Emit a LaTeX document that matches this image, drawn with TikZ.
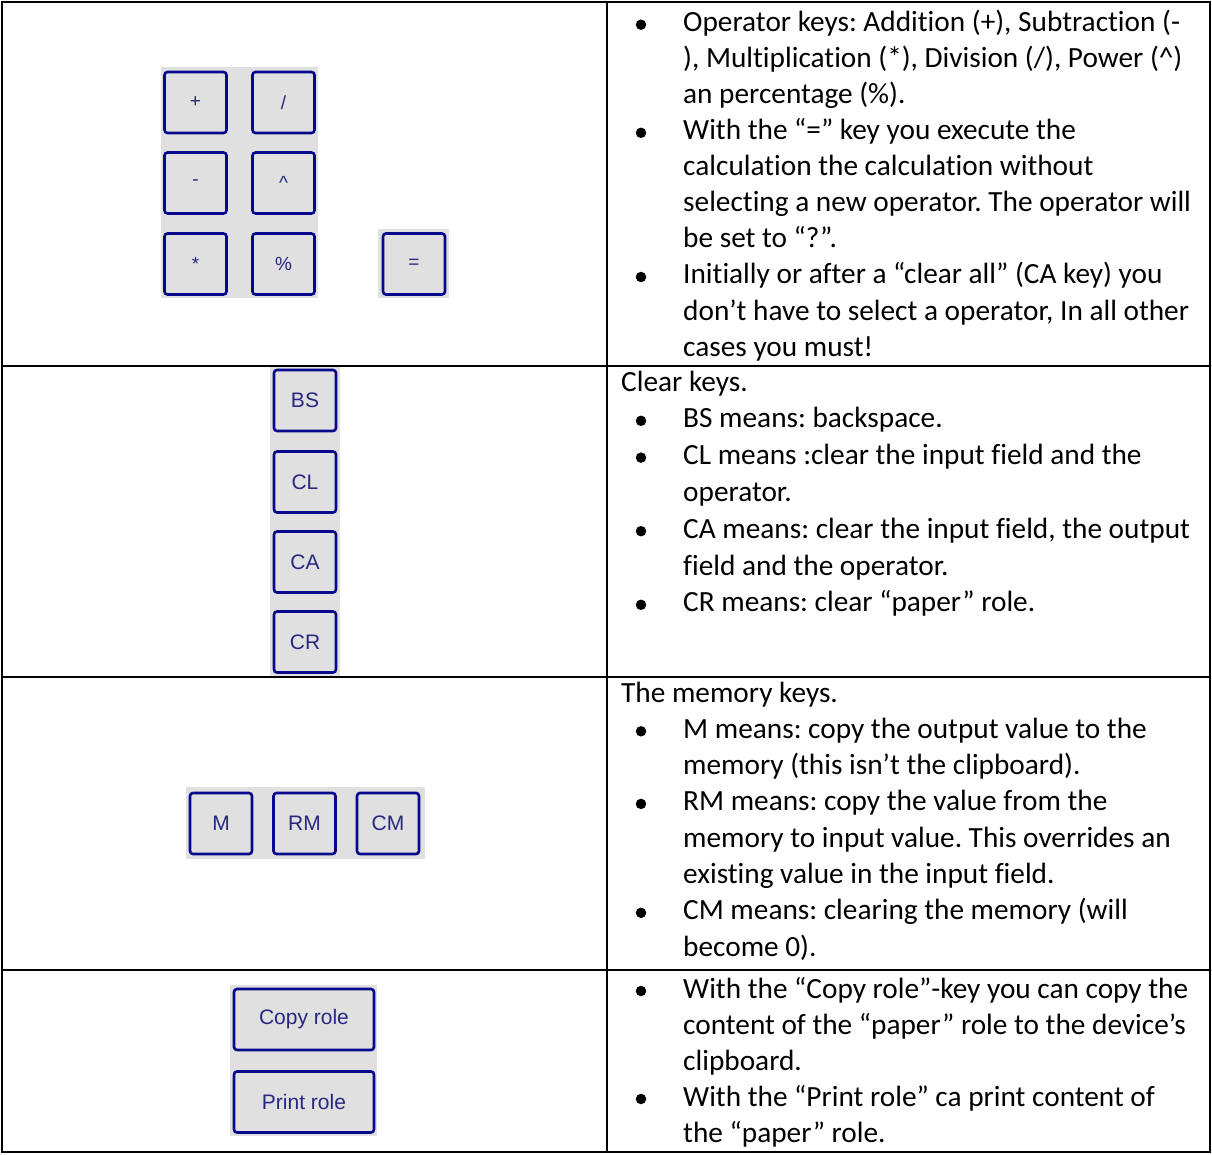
\documentclass[tikz,border=0pt]{standalone}
\usepackage{fontspec}
\setmainfont{Carlito}[Ligatures=NoCommon]
\setsansfont{Liberation Sans}
\frenchspacing
\begin{document}
\begin{tikzpicture}[x=1pt,y=-1pt,
  key/.style={draw=keyblue, fill=padgray, line width=2.6pt, rounded corners=3pt,
    minimum width=62pt, minimum height=61pt, inner sep=0pt,
    font=\sffamily\fontsize{21}{24}\selectfont, text=keytext},
  opkey/.style={key, font=\sffamily\fontsize{19}{22}\selectfont},
  wkey/.style={key, minimum width=140pt},
  txt/.style={anchor=base west, inner sep=0pt, font=\fontsize{29.3}{34}\selectfont},
  blt/.style={circle, fill=black, inner sep=0pt, minimum size=10.5pt},
  rule/.style={line width=2pt, black}
]
\definecolor{padgray}{RGB}{224,224,224}
\definecolor{keyblue}{RGB}{8,8,140}
\definecolor{keytext}{RGB}{40,40,130}
\useasboundingbox (0,0) rectangle (1212,1155);
\fill[white] (0,0) rectangle (1212,1155);

% keypads backgrounds
\fill[padgray] (161,67) rectangle (318,298);
\fill[padgray] (378,229) rectangle (449,298);
\fill[padgray] (270,366) rectangle (340,676);
\fill[padgray] (186,787) rectangle (425,859);
\fill[padgray] (230,985) rectangle (377,1136);

% row 1 keys
\node[opkey] (kplus) at (195.5,102.5) {+};
\node[opkey] (kdiv) at (283.5,102.5) {/};
\node[opkey] (kminus) at (195.5,183) {-};
\node[opkey] (kpow) at (283.5,183) {\textasciicircum};
\node[opkey] (kmul) at (195.5,264) {*};
\node[opkey] (kpct) at (283.5,264) {\%};
\node[opkey] (keq) at (414,264) {=};

% row 2 keys
\node[key] (kbs) at (305,400.5) {BS};
\node[key] (kcl) at (305,482) {CL};
\node[key] (kca) at (305,562) {CA};
\node[key] (kcr) at (305,642) {CR};

% row 3 keys
\node[key] (km) at (221,823.5) {M};
\node[key] (krm) at (304.5,823.5) {RM};
\node[key] (kcm) at (388,823.5) {CM};

% row 4 keys
\node[wkey] (kcopy) at (304,1019.5) {Copy role};
\node[wkey] (kprint) at (304,1102) {Print role};

% table rules
\draw[rule] (2,2) -- (1210,2);
\draw[rule] (2,366) -- (1210,366);
\draw[rule] (2,676.5) -- (1210,676.5);
\draw[rule] (2,969.5) -- (1210,969.5);
\draw[rule] (2,1152) -- (1210,1152);
\draw[rule] (2,1) -- (2,1153);
\draw[rule] (607,1) -- (607,1153);
\draw[rule] (1210,1) -- (1210,1153);

% row 1 text
\node[blt] (b11) at (641,24.7) {};
\node[txt] (t11) at (683,31.7) {Operator keys: Addition (+), Subtraction (-};
\node[txt] (t12) at (683,67.7) {), Multiplication (*), Division (/), Power (\textasciicircum)};
\node[txt] (t13) at (683,103.8) {an percentage (\%).};
\node[blt] (b12) at (641,132.8) {};
\node[txt] (t14) at (683,139.8) {With the “=” key you execute the};
\node[txt] (t15) at (683,175.9) {calculation the calculation without};
\node[txt] (t16) at (683,211.9) {selecting a new operator. The operator will};
\node[txt] (t17) at (683,247.9) {be set to “?”.};
\node[blt] (b13) at (641,277) {};
\node[txt] (t18) at (683,284) {Initially or after a “clear all” (CA key) you};
\node[txt] (t19) at (683,320) {don’t have to select a operator, In all other};
\node[txt] (t110) at (683,356) {cases you must!};

% row 2 text
\node[txt] (t21) at (621,391) {Clear keys.};
\node[blt] (b21) at (641,420.8) {};
\node[txt] (t22) at (683,427.8) {BS means: backspace.};
\node[blt] (b22) at (641,457.6) {};
\node[txt] (t23) at (683,464.6) {CL means :clear the input field and the};
\node[txt] (t24) at (683,501.4) {operator.};
\node[blt] (b23) at (641,531.2) {};
\node[txt] (t25) at (683,538.2) {CA means: clear the input field, the output};
\node[txt] (t26) at (683,575) {field and the operator.};
\node[blt] (b24) at (641,604.8) {};
\node[txt] (t27) at (683,611.8) {CR means: clear “paper” role.};

% row 3 text
\node[txt] (t31) at (621,702) {The memory keys.};
\node[blt] (b31) at (641,731.3) {};
\node[txt] (t32) at (683,738.3) {M means: copy the output value to the};
\node[txt] (t33) at (683,774.6) {memory (this isn’t the clipboard).};
\node[blt] (b32) at (641,803.9) {};
\node[txt] (t34) at (683,810.9) {RM means: copy the value from the};
\node[txt] (t35) at (683,847.2) {memory to input value. This overrides an};
\node[txt] (t36) at (683,883.5) {existing value in the input field.};
\node[blt] (b33) at (641,912.8) {};
\node[txt] (t37) at (683,919.8) {CM means: clearing the memory (will};
\node[txt] (t38) at (683,956.1) {become 0).};

% row 4 text
\node[blt] (b41) at (641,991) {};
\node[txt] (t41) at (683,998) {With the “Copy role”-key you can copy the};
\node[txt] (t42) at (683,1034) {content of the “paper” role to the device’s};
\node[txt] (t43) at (683,1070) {clipboard.};
\node[blt] (b42) at (641,1099) {};
\node[txt] (t44) at (683,1106) {With the “Print role” ca print content of};
\node[txt] (t45) at (683,1142) {the “paper” role.};
\end{tikzpicture}
\end{document}
